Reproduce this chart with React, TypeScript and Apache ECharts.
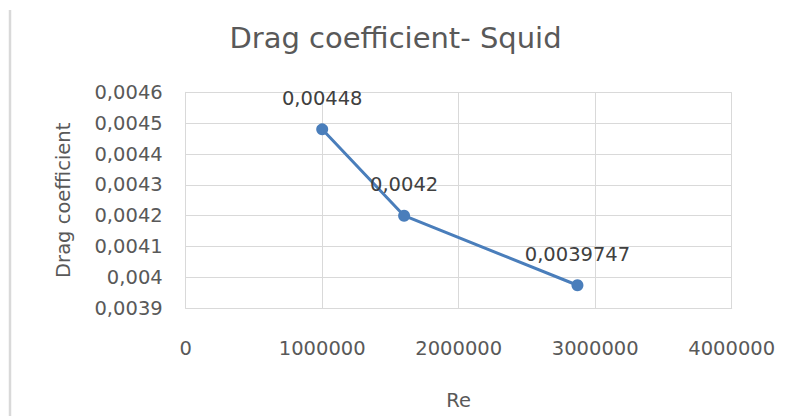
import React, { useEffect, useRef } from "react";
import * as echarts from "echarts";

const reynolds = [1000000, 1600000, 2870000];
const dragCoefficient = [0.00448, 0.0042, 0.0039747];
const titleText = "Drag coefficient- Squid";
const xAxisName = "Re";
const yAxisName = "Drag coefficient";

const FONT = "DejaVu Sans";
const TEXT = "#595959";
const GRID = "#d9d9d9";
const BLUE = "#4a7ebb";

export default function App() {
  const ref = useRef<HTMLDivElement>(null);
  useEffect(() => {
    const chart = echarts.init(ref.current!, null, { renderer: "svg" });
    const comma = (v: number) => String(+(+v).toFixed(7)).replace(".", ",");
    chart.setOption({
      animation: false,
      backgroundColor: "#ffffff",
      title: {
        text: titleText,
        left: "center",
        top: 18,
        textStyle: { fontFamily: FONT, fontSize: 29, fontWeight: "normal", color: TEXT },
      },
      grid: { left: 185.7, right: 59.3, top: 92.3, bottom: 107.7, containLabel: false },
      xAxis: {
        type: "value",
        min: 0,
        max: 4000000,
        interval: 1000000,
        name: xAxisName,
        nameLocation: "middle",
        nameGap: 82,
        nameTextStyle: { fontFamily: FONT, fontSize: 19.5, color: TEXT },
        axisLine: { show: true, lineStyle: { color: GRID, width: 1 } },
        axisTick: { show: false },
        splitLine: { show: true, lineStyle: { color: GRID, width: 1 } },
        axisLabel: {
          margin: 30,
          fontFamily: FONT,
          fontSize: 19.5,
          color: TEXT,
          formatter: (v: number) => String(v),
        },
      },
      yAxis: {
        type: "value",
        min: 0.0039,
        max: 0.0046,
        interval: 0.0001,
        name: yAxisName,
        nameLocation: "middle",
        nameGap: 112,
        nameTextStyle: { fontFamily: FONT, fontSize: 19.5, color: TEXT },
        axisLine: { show: true, lineStyle: { color: GRID, width: 1 } },
        axisTick: { show: false },
        splitLine: { show: true, lineStyle: { color: GRID, width: 1 } },
        axisLabel: {
          margin: 23,
          fontFamily: FONT,
          fontSize: 19.5,
          color: TEXT,
          formatter: (v: number) => comma(+(+v).toFixed(4)),
        },
      },
      graphic: [
        {
          type: "line",
          shape: { x1: 10, y1: 10, x2: 10, y2: 416 },
          style: { stroke: GRID, lineWidth: 2.5 },
        },
      ],
      series: [
        {
          type: "line",
          data: reynolds.map((x, i) => [x, dragCoefficient[i]]),
          symbol: "circle",
          symbolSize: 12,
          lineStyle: { color: BLUE, width: 3 },
          itemStyle: { color: BLUE },
          label: {
            show: true,
            position: "top",
            distance: 15,
            fontFamily: FONT,
            fontSize: 19.5,
            color: "#404040",
            formatter: (p: any) => comma(p.value[1]),
          },
        },
      ],
    });
    return () => chart.dispose();
  }, []);
  return (
    <div
      ref={ref}
      style={{ position: "fixed", left: 0, top: 0, width: 791, height: 416, background: "#fff" }}
    />
  );
}
